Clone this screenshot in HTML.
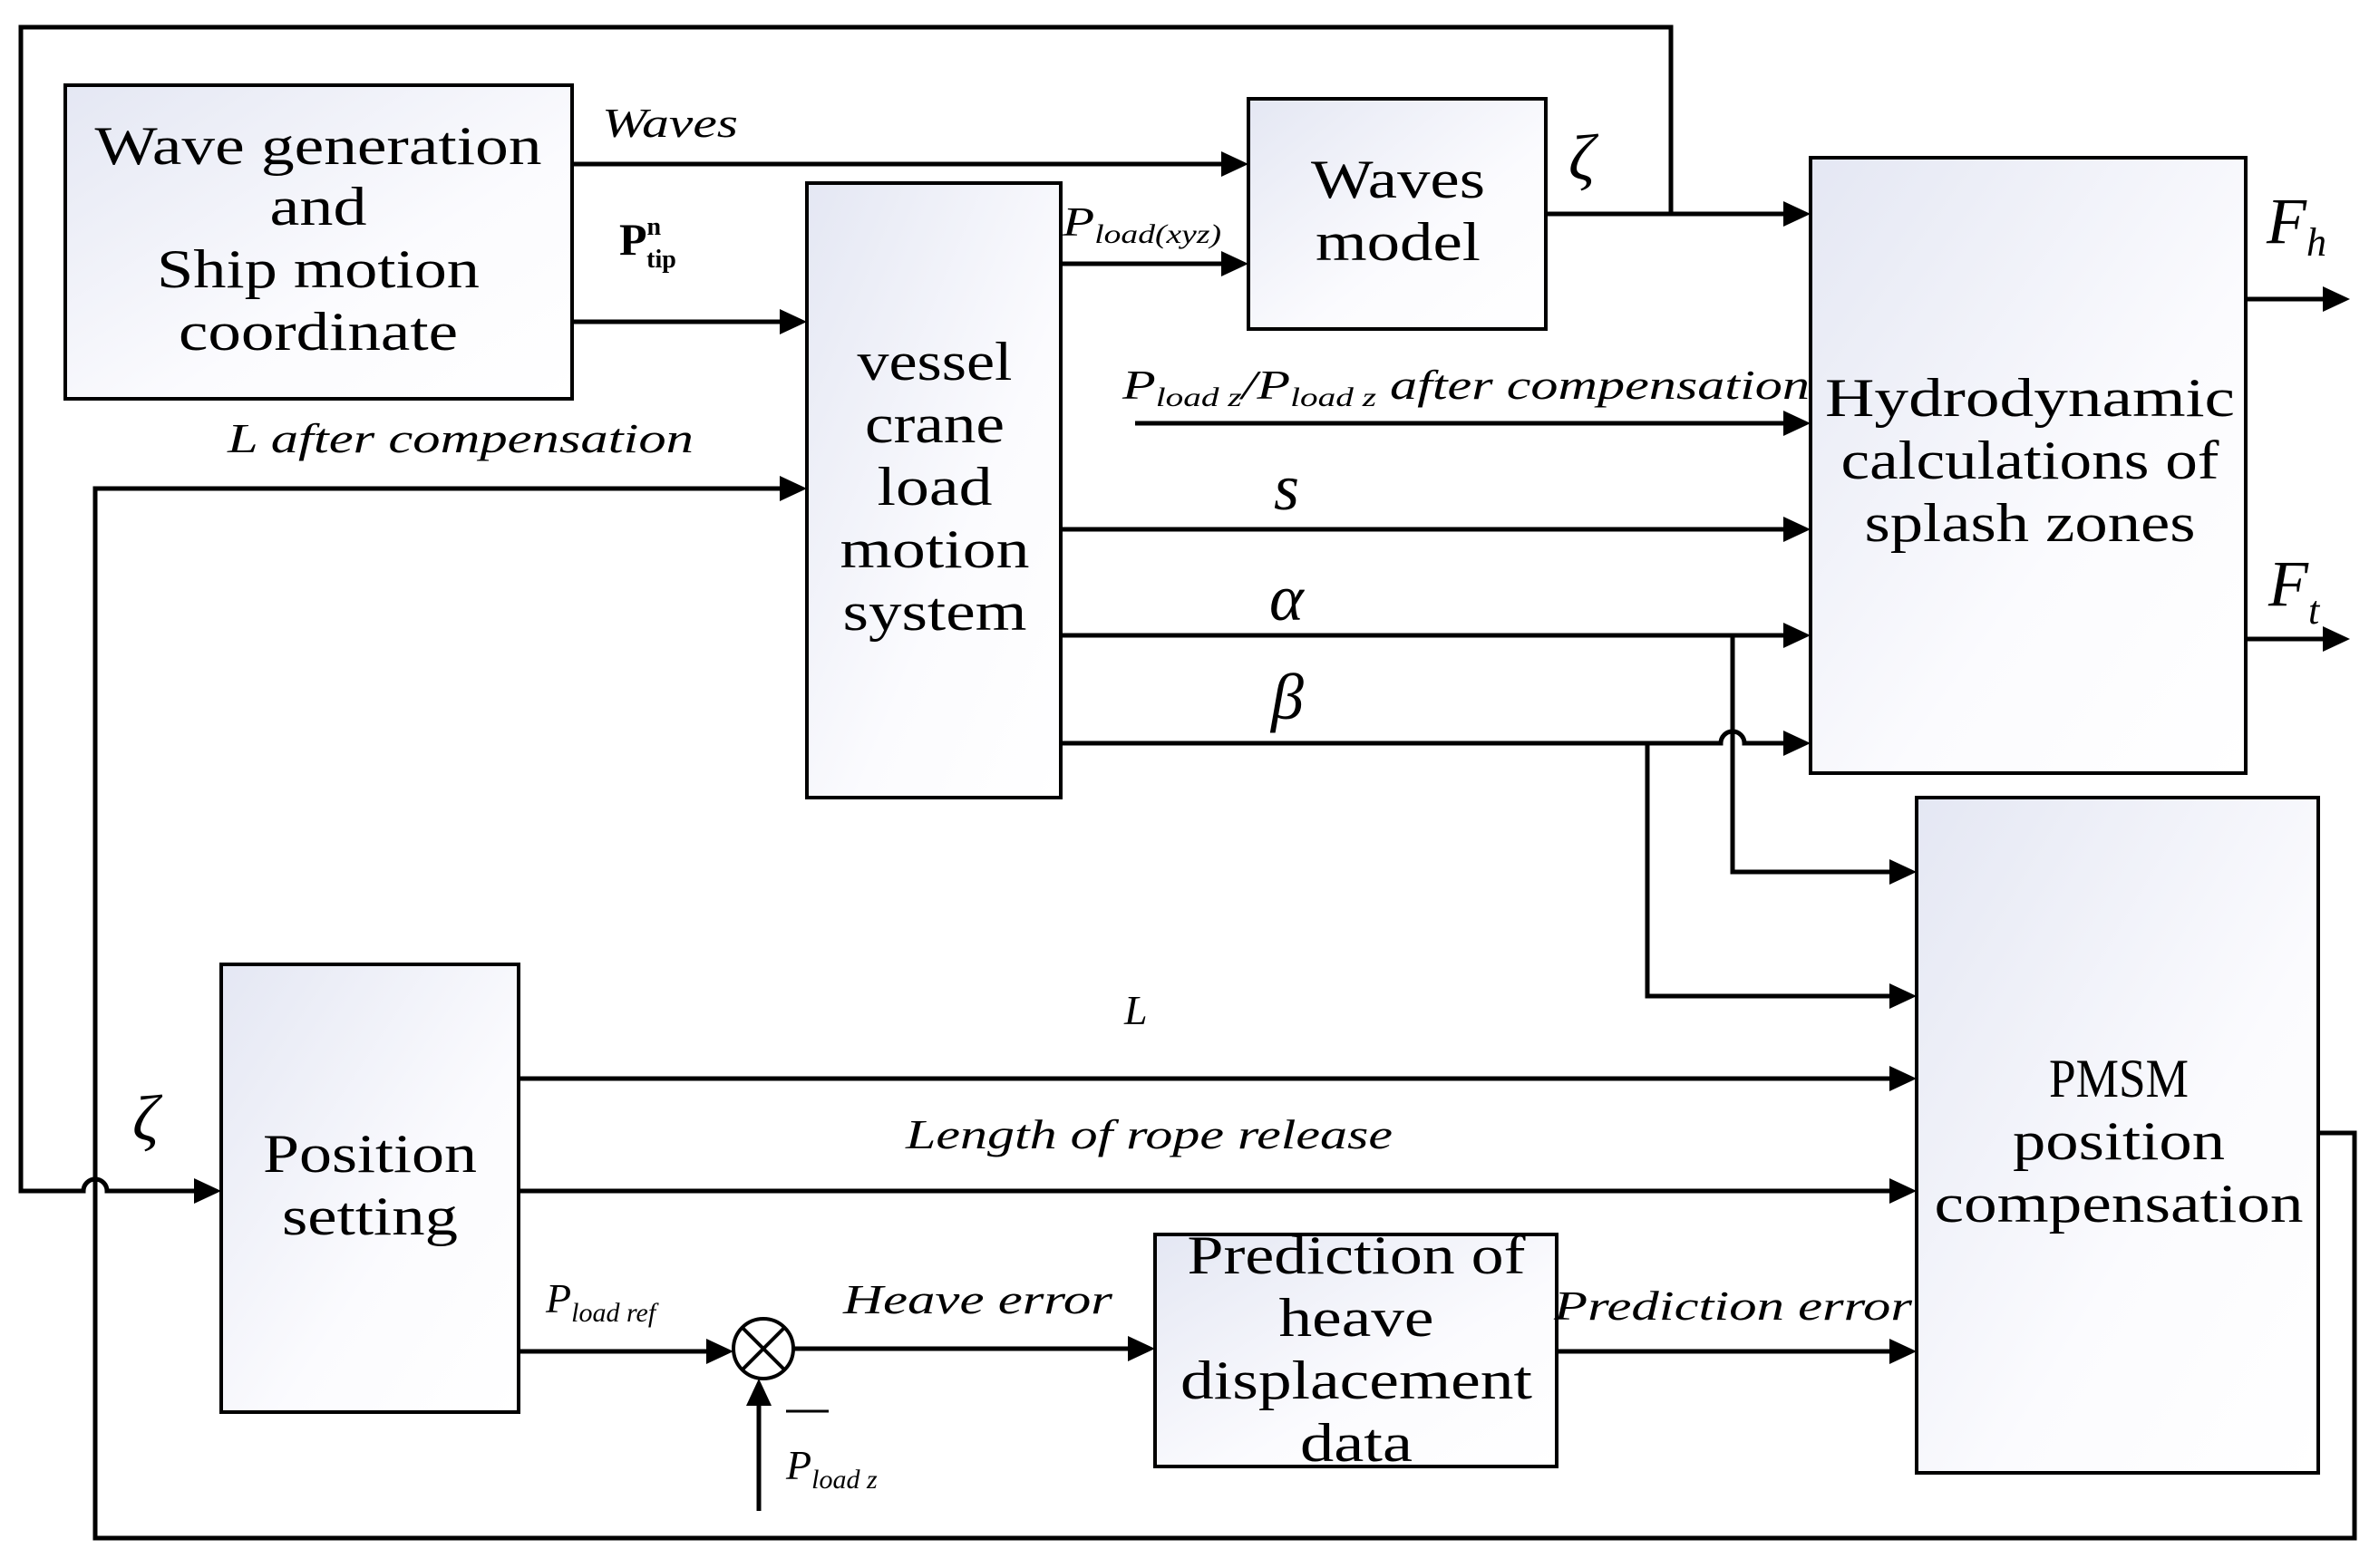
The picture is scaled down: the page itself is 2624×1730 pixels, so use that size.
<!DOCTYPE html>
<html><head><meta charset="utf-8"><style>html,body{margin:0;padding:0;background:#fff}svg{display:block}
text{font-family:"Liberation Serif",serif;fill:#000}
.b{font-size:60px;text-anchor:middle}
.i{font-style:italic;font-size:46px}
.g{font-style:italic;font-size:72px}
</style></head><body>
<svg width="2624" height="1730" viewBox="0 0 2624 1730" xmlns="http://www.w3.org/2000/svg">
<defs>
<linearGradient id="gr" x1="0" y1="0" x2="1" y2="1"><stop offset="0" stop-color="#e4e7f3"/><stop offset="0.6" stop-color="#fbfbfe"/><stop offset="1" stop-color="#fff"/></linearGradient>
</defs>
<style>.l{stroke:#000;stroke-width:5;fill:none}.bx{stroke:#000;stroke-width:4;fill:url(#gr)}</style>
<rect class="bx" x="72" y="94" width="559" height="346"/>
<rect class="bx" x="890" y="202" width="280" height="678"/>
<rect class="bx" x="1377" y="109" width="328" height="254"/>
<rect class="bx" x="1997" y="174" width="480" height="679"/>
<rect class="bx" x="2114" y="880" width="443" height="745"/>
<rect class="bx" x="244" y="1064" width="328" height="494"/>
<rect class="bx" x="1274" y="1362" width="443" height="256"/>
<g class="l">
<path d="M631,181 H1350"/>
<path d="M631,355 H863"/>
<path d="M1170,291 H1350"/>
<path d="M1705,236 H1970"/>
<path d="M1843,236 V30 H23 V1314 H92 A13,13 0 0 1 118,1314 H217"/>
<path d="M1252,467 H1970"/>
<path d="M1170,584 H1970"/>
<path d="M1170,701 H1970"/>
<path d="M1911,701 V962 H2087"/>
<path d="M1170,820 H1898 A13,13 0 0 1 1924,820 H1970"/>
<path d="M1817,820 V1099 H2087"/>
<path d="M863,539 H105 V1697 H2597 V1250 H2557"/>
<path d="M2477,330 H2562"/>
<path d="M2477,705 H2562"/>
<path d="M572,1190 H2087"/>
<path d="M572,1314 H2087"/>
<path d="M572,1491 H780"/>
<path d="M876,1488 H1247"/>
<path d="M1717,1491 H2087"/>
<path d="M837,1667 V1548"/>
</g>
<circle cx="842" cy="1488" r="33" stroke="#000" stroke-width="4" fill="#fff"/>
<path d="M819,1465 L865,1511 M865,1465 L819,1511" stroke="#000" stroke-width="4"/>
<path d="M867,1557 H914" stroke="#000" stroke-width="3"/>
<g fill="#000">
<path d="M1377,181 l-30,-14 v28z"/>
<path d="M890,355 l-30,-14 v28z"/>
<path d="M1377,291 l-30,-14 v28z"/>
<path d="M1997,236 l-30,-14 v28z"/>
<path d="M1997,467 l-30,-14 v28z"/>
<path d="M1997,584 l-30,-14 v28z"/>
<path d="M1997,701 l-30,-14 v28z"/>
<path d="M1997,820 l-30,-14 v28z"/>
<path d="M2114,962 l-30,-14 v28z"/>
<path d="M2114,1099 l-30,-14 v28z"/>
<path d="M890,539 l-30,-14 v28z"/>
<path d="M2592,330 l-30,-14 v28z"/>
<path d="M2592,705 l-30,-14 v28z"/>
<path d="M2114,1190 l-30,-14 v28z"/>
<path d="M2114,1314 l-30,-14 v28z"/>
<path d="M244,1314 l-30,-14 v28z"/>
<path d="M809,1491 l-30,-14 v28z"/>
<path d="M1274,1488 l-30,-14 v28z"/>
<path d="M2114,1491 l-30,-14 v28z"/>
<path d="M837,1521 l-14,30 h28z"/>
</g>
<g lengthAdjust="spacingAndGlyphs">
<text class="b" x="351" y="181" textLength="493" lengthAdjust="spacingAndGlyphs">Wave generation</text>
<text class="b" x="351" y="248" textLength="107" lengthAdjust="spacingAndGlyphs">and</text>
<text class="b" x="351" y="317" textLength="356" lengthAdjust="spacingAndGlyphs">Ship motion</text>
<text class="b" x="351" y="386" textLength="308" lengthAdjust="spacingAndGlyphs">coordinate</text>
<text class="b" x="1031" y="419" textLength="171" lengthAdjust="spacingAndGlyphs">vessel</text>
<text class="b" x="1031" y="488" textLength="154" lengthAdjust="spacingAndGlyphs">crane</text>
<text class="b" x="1031" y="557" textLength="127" lengthAdjust="spacingAndGlyphs">load</text>
<text class="b" x="1031" y="626" textLength="209" lengthAdjust="spacingAndGlyphs">motion</text>
<text class="b" x="1031" y="695" textLength="203" lengthAdjust="spacingAndGlyphs">system</text>
<text class="b" x="1542" y="218" textLength="192" lengthAdjust="spacingAndGlyphs">Waves</text>
<text class="b" x="1542" y="287" textLength="182" lengthAdjust="spacingAndGlyphs">model</text>
<text class="b" x="2239" y="459" textLength="452" lengthAdjust="spacingAndGlyphs">Hydrodynamic</text>
<text class="b" x="2239" y="528" textLength="417" lengthAdjust="spacingAndGlyphs">calculations of</text>
<text class="b" x="2239" y="597" textLength="365" lengthAdjust="spacingAndGlyphs">splash zones</text>
<text class="b" x="2337" y="1210" textLength="154" lengthAdjust="spacingAndGlyphs">PMSM</text>
<text class="b" x="2337" y="1279" textLength="234" lengthAdjust="spacingAndGlyphs">position</text>
<text class="b" x="2337" y="1348" textLength="407" lengthAdjust="spacingAndGlyphs">compensation</text>
<text class="b" x="408" y="1293" textLength="236" lengthAdjust="spacingAndGlyphs">Position</text>
<text class="b" x="408" y="1362" textLength="194" lengthAdjust="spacingAndGlyphs">setting</text>
<text class="b" x="1496" y="1405" textLength="373" lengthAdjust="spacingAndGlyphs">Prediction of</text>
<text class="b" x="1496" y="1474" textLength="171" lengthAdjust="spacingAndGlyphs">heave</text>
<text class="b" x="1496" y="1543" textLength="388" lengthAdjust="spacingAndGlyphs">displacement</text>
<text class="b" x="1496" y="1612" textLength="124" lengthAdjust="spacingAndGlyphs">data</text>
</g>
<text class="i" x="664" y="151" textLength="150" lengthAdjust="spacingAndGlyphs">Waves</text>
<text x="683" y="281" style="font-weight:bold;font-size:50px">P<tspan dy="-22" font-size="28">n</tspan><tspan dx="-16" dy="36" font-size="28">tip</tspan></text>
<text class="i" x="251" y="499" textLength="514" lengthAdjust="spacingAndGlyphs">L after compensation</text>
<text class="i" x="1172" y="260" font-size="44" textLength="175" lengthAdjust="spacingAndGlyphs">P<tspan font-size="30" dy="8">load(xyz)</tspan></text>
<text class="i" x="1238" y="440" textLength="758" lengthAdjust="spacingAndGlyphs">P<tspan font-size="30" dy="8">load z</tspan><tspan dy="-8">/P</tspan><tspan font-size="30" dy="8">load z</tspan><tspan dy="-8"> after compensation</tspan></text>
<text class="g" x="1730" y="198" font-size="84">ζ</text>
<text class="g" x="1405" y="562">s</text>
<text class="g" x="1400" y="684">α</text>
<text class="g" x="1402" y="793">β</text>
<text class="g" x="2500" y="268">F<tspan font-size="44" dy="14">h</tspan></text>
<text class="g" x="2502" y="668">F<tspan font-size="44" dy="20">t</tspan></text>
<text class="i" x="1240" y="1130">L</text>
<text class="i" x="999" y="1267" textLength="537" lengthAdjust="spacingAndGlyphs">Length of rope release</text>
<text class="g" x="146" y="1258" font-size="84">ζ</text>
<text class="i" x="602" y="1448">P<tspan font-size="30" dy="10">load ref</tspan></text>
<text class="i" x="930" y="1449" textLength="297" lengthAdjust="spacingAndGlyphs">Heave error</text>
<text class="i" x="1714" y="1456" textLength="395" lengthAdjust="spacingAndGlyphs">Prediction error</text>
<text class="i" x="867" y="1632">P<tspan font-size="30" dy="10">load z</tspan></text>
</svg>
</body></html>
